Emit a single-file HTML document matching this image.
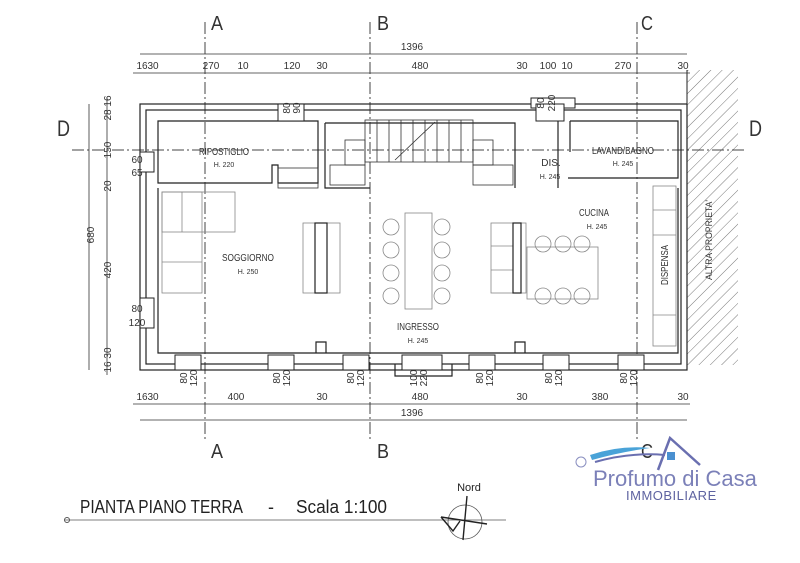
<!DOCTYPE html>
<html><head><meta charset="utf-8"><style>
html,body{margin:0;padding:0;background:#fff;}
svg{display:block;font-family:"Liberation Sans Narrow","Liberation Sans",sans-serif;}
</style></head><body>
<svg width="800" height="563" viewBox="0 0 800 563" xmlns="http://www.w3.org/2000/svg">
<defs>
<pattern id="h" width="8" height="8" patternUnits="userSpaceOnUse" patternTransform="rotate(45)">
<line x1="0" y1="0" x2="0" y2="8" stroke="#555" stroke-width="0.8"/></pattern>
</defs>
<rect width="800" height="563" fill="#fff"/>
<rect x="687" y="70" width="51" height="295" fill="url(#h)"/>
<line x1="687" y1="70" x2="687" y2="370" stroke="#222" stroke-width="1"/>
<text x="712" y="240" font-size="9" transform="rotate(-90 712 240)" text-anchor="middle" fill="#333" textLength="80" lengthAdjust="spacingAndGlyphs">ALTRA PROPRIETA'</text>

<g stroke="#444" stroke-width="1" stroke-dasharray="12,3,2,3" fill="none">
<line x1="205" y1="22" x2="205" y2="440"/>
<line x1="370" y1="22" x2="370" y2="440"/>
<line x1="637" y1="22" x2="637" y2="440"/>
<line x1="72" y1="150" x2="745" y2="150"/>
</g>
<g font-size="20" fill="#333" font-family="Liberation Sans,sans-serif">
<text x="211" y="30" textLength="12" lengthAdjust="spacingAndGlyphs">A</text><text x="377" y="30" textLength="12" lengthAdjust="spacingAndGlyphs">B</text><text x="641" y="30" textLength="12" lengthAdjust="spacingAndGlyphs">C</text>
<text x="211" y="458" textLength="12" lengthAdjust="spacingAndGlyphs">A</text><text x="377" y="458" textLength="12" lengthAdjust="spacingAndGlyphs">B</text><text x="641" y="458" textLength="12" lengthAdjust="spacingAndGlyphs">C</text>
<text x="57" y="136" font-size="22" textLength="13" lengthAdjust="spacingAndGlyphs">D</text><text x="749" y="136" font-size="22" textLength="13" lengthAdjust="spacingAndGlyphs">D</text>
</g>

<g stroke="#222" stroke-width="1.2" fill="none">
<rect x="140" y="104" width="547" height="266"/>
<rect x="146" y="110" width="535" height="254"/>
<path d="M158 121 H318 V183 H278 V165 H272 V183 H158 Z"/>
<path d="M158 188 V353 H678 V188"/>
<path d="M325 123 V188 H370"/>
<path d="M325 123 H515 V188"/>
<path d="M558 121 V188 M570 121 H678 V178 H568"/>
<path d="M570 121 V152"/>
<path d="M316 353 V342 H326 V353 M515 353 V342 H525 V353"/>
<path d="M395 364 V376 H452 V364"/>
</g>
<g stroke="#333" stroke-width="0.8" fill="none">
<rect x="365" y="120" width="108" height="42"/>
<path d="M377 120V162M389 120V162M401 120V162M413 120V162M425 120V162M437 120V162M449 120V162M461 120V162"/>
<line x1="395" y1="160" x2="435" y2="122"/>
<rect x="345" y="140" width="20" height="25"/><rect x="473" y="140" width="20" height="25"/>
<rect x="473" y="165" width="40" height="20"/><rect x="330" y="165" width="35" height="20"/>
<rect x="278" y="168" width="40" height="20"/>
</g>
<g stroke="#222" stroke-width="1" fill="#fff">
<rect x="278" y="104" width="26" height="17"/>
<rect x="531" y="98" width="44" height="10"/><rect x="536" y="104" width="28" height="17"/>
<rect x="140" y="152" width="14" height="20"/>
<rect x="140" y="298" width="14" height="30"/>
<rect x="175" y="355" width="26" height="15"/><rect x="268" y="355" width="26" height="15"/>
<rect x="343" y="355" width="26" height="15"/><rect x="402" y="355" width="40" height="15"/>
<rect x="469" y="355" width="26" height="15"/><rect x="543" y="355" width="26" height="15"/>
<rect x="618" y="355" width="26" height="15"/>
</g>
<g stroke="#888" stroke-width="0.8" fill="none">
<rect x="162" y="192" width="73" height="40"/><rect x="162" y="192" width="40" height="101"/>
<line x1="162" y1="262" x2="202" y2="262"/><line x1="182" y1="192" x2="182" y2="232"/>
<rect x="303" y="223" width="37" height="70"/>
<rect x="405" y="213" width="27" height="96"/>
<circle cx="391" cy="227" r="8"/><circle cx="391" cy="250" r="8"/><circle cx="391" cy="273" r="8"/><circle cx="391" cy="296" r="8"/>
<circle cx="442" cy="227" r="8"/><circle cx="442" cy="250" r="8"/><circle cx="442" cy="273" r="8"/><circle cx="442" cy="296" r="8"/>
<rect x="491" y="223" width="35" height="70"/><line x1="491" y1="246" x2="514" y2="246"/><line x1="491" y1="270" x2="514" y2="270"/>
<rect x="527" y="247" width="71" height="52"/>
<circle cx="543" cy="244" r="8"/><circle cx="563" cy="244" r="8"/><circle cx="582" cy="244" r="8"/>
<circle cx="543" cy="296" r="8"/><circle cx="563" cy="296" r="8"/><circle cx="582" cy="296" r="8"/>
<rect x="653" y="186" width="23" height="160"/>
<line x1="653" y1="210" x2="676" y2="210"/><line x1="653" y1="235" x2="676" y2="235"/><line x1="653" y1="315" x2="676" y2="315"/>
</g>
<g stroke="#222" stroke-width="1.2" fill="#fff">
<rect x="315" y="223" width="12" height="70"/><rect x="513" y="223" width="8" height="70"/>
</g>

<g fill="#333" text-anchor="middle">
<text x="224" y="155" font-size="10" textLength="50" lengthAdjust="spacingAndGlyphs">RIPOSTIGLIO</text><text x="224" y="167" font-size="7">H. 220</text>
<text x="623" y="154" font-size="10" textLength="62" lengthAdjust="spacingAndGlyphs">LAVAND/BAGNO</text><text x="623" y="166" font-size="7">H. 245</text>
<text x="551" y="166" font-size="10">DIS.</text><text x="550" y="179" font-size="7">H. 245</text>
<text x="594" y="216" font-size="10" textLength="30" lengthAdjust="spacingAndGlyphs">CUCINA</text><text x="597" y="229" font-size="7">H. 245</text>
<text x="248" y="261" font-size="10" textLength="52" lengthAdjust="spacingAndGlyphs">SOGGIORNO</text><text x="248" y="274" font-size="7">H. 250</text>
<text x="418" y="330" font-size="10" textLength="42" lengthAdjust="spacingAndGlyphs">INGRESSO</text><text x="418" y="343" font-size="7">H. 245</text>
<text x="668" y="265" font-size="10" transform="rotate(-90 668 265)" textLength="40" lengthAdjust="spacingAndGlyphs">DISPENSA</text>
</g>

<g stroke="#333" stroke-width="0.8">
<line x1="140" y1="54" x2="687" y2="54"/><line x1="133" y1="73" x2="690" y2="73"/>
<line x1="133" y1="404" x2="690" y2="404"/><line x1="140" y1="420" x2="687" y2="420"/>
<line x1="89" y1="104" x2="89" y2="370"/><line x1="107" y1="97" x2="107" y2="375"/>
</g>
<g fill="#333" font-size="10" text-anchor="middle">
<text x="412" y="50">1396</text>
<text x="142" y="69">16</text><text x="153" y="69">30</text><text x="211" y="69">270</text><text x="243" y="69">10</text>
<text x="292" y="69">120</text><text x="322" y="69">30</text><text x="420" y="69">480</text><text x="522" y="69">30</text>
<text x="548" y="69">100</text><text x="567" y="69">10</text><text x="623" y="69">270</text><text x="683" y="69">30</text>
<text x="142" y="400">16</text><text x="153" y="400">30</text><text x="236" y="400">400</text><text x="322" y="400">30</text>
<text x="420" y="400">480</text><text x="522" y="400">30</text><text x="600" y="400">380</text><text x="683" y="400">30</text>
<text x="412" y="416">1396</text>
<text x="137" y="163">60</text><text x="137" y="176">65</text>
<text x="137" y="312">80</text><text x="137" y="326">120</text>
<g transform="rotate(-90)">
<text x="-235" y="94">680</text><text x="-270" y="111">420</text><text x="-150" y="111">150</text>
<text x="-186" y="111">20</text><text x="-108" y="111">28 16</text><text x="-360" y="111">16 30</text>
<text x="-108" y="290">80</text><text x="-108" y="300">90</text>
<text x="-103" y="544">80</text><text x="-103" y="555">220</text>
<text x="-378" y="187">80</text><text x="-378" y="197">120</text>
<text x="-378" y="280">80</text><text x="-378" y="290">120</text>
<text x="-378" y="354">80</text><text x="-378" y="364">120</text>
<text x="-378" y="417">100</text><text x="-378" y="427">220</text>
<text x="-378" y="483">80</text><text x="-378" y="493">120</text>
<text x="-378" y="552">80</text><text x="-378" y="562">120</text>
<text x="-378" y="627">80</text><text x="-378" y="637">120</text>
</g>
</g>

<text x="80" y="513" font-size="18" fill="#222" textLength="163" lengthAdjust="spacingAndGlyphs">PIANTA PIANO TERRA</text>
<text x="268" y="513" font-size="18" fill="#222">-</text>
<text x="296" y="513" font-size="18" fill="#222" textLength="91" lengthAdjust="spacingAndGlyphs">Scala 1:100</text>
<line x1="64" y1="520" x2="506" y2="520" stroke="#555" stroke-width="0.8"/>
<circle cx="67" cy="520" r="2.5" fill="none" stroke="#555"/>
<text x="469" y="491" font-size="11" text-anchor="middle" fill="#222">Nord</text>
<circle cx="465" cy="522" r="17" fill="none" stroke="#555" stroke-width="0.8"/>
<path d="M467 496 L463 540 M441 517 L487 524 M441 517 L453 531 L460 521" stroke="#222" stroke-width="1.4" fill="none"/>

<path d="M590 455 Q620 445 650 448 Q620 452 592 460" fill="#4aa3d8"/>
<path d="M595 462 Q630 452 665 455" stroke="#6a6fb0" stroke-width="2" fill="none"/>
<path d="M658 470 L670 438 L700 465" stroke="#6a6fb0" stroke-width="2.5" fill="none"/>
<rect x="667" y="452" width="8" height="8" fill="#4a90d0"/>
<circle cx="581" cy="462" r="5" fill="none" stroke="#8a8fc0"/>
<text x="593" y="486" font-size="22" fill="#7b80b8" font-family="Liberation Sans,sans-serif">Profumo di Casa</text>
<text x="626" y="500" font-size="13" fill="#5d62a0" font-family="Liberation Sans,sans-serif" letter-spacing="0.5">IMMOBILIARE</text>
</svg>
</body></html>
